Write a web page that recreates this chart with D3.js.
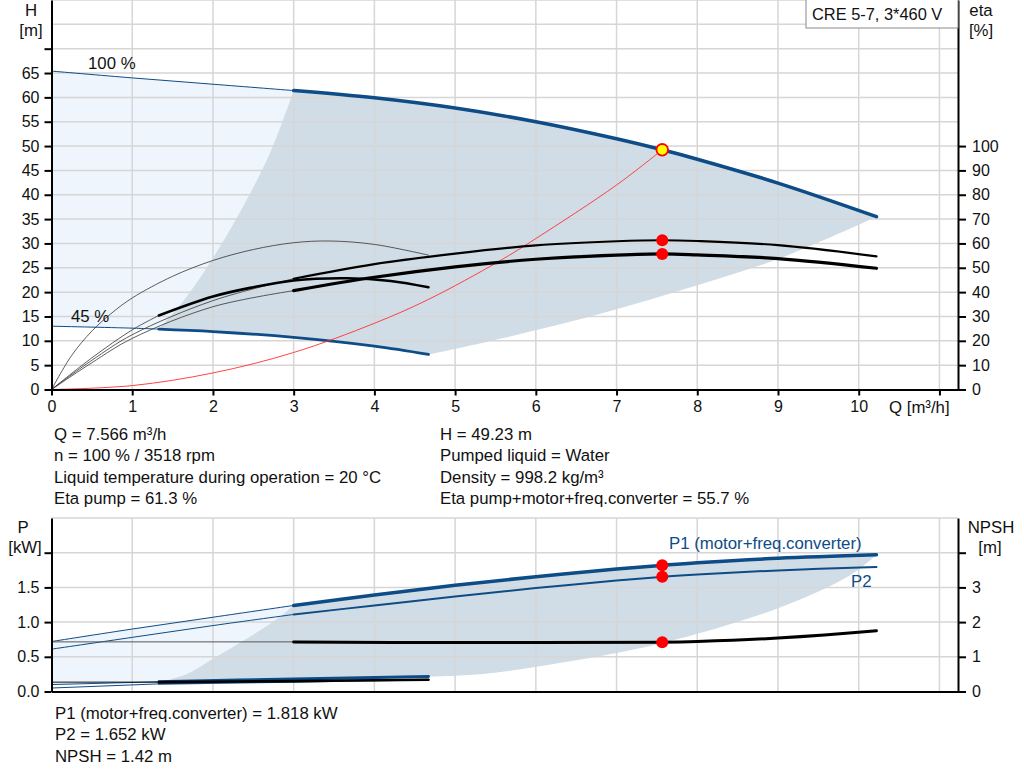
<!DOCTYPE html>
<html>
<head>
<meta charset="utf-8">
<script src="https://cdn.jsdelivr.net/npm/d3@7"></script>
<style>
  body { margin: 0; background: #fff; }
  svg { display: block; font-family: "Liberation Sans", Arial, sans-serif; }
  .axis text { font-size: 16px; fill: #111; }
  .axis path, .axis line { stroke: #000; stroke-width: 2; }
  .grid line { stroke: #d6d6d6; stroke-width: 1.5; }
</style>
</head>
<body>
<script>
"use strict"

// ---- ticks ----
const qTicks = [0, 1, 2, 3, 4, 5, 6, 7, 8, 9, 10, 11]
const hTicks = [0, 5, 10, 15, 20, 25, 30, 35, 40, 45, 50, 55, 60, 65, 70]
const etaTicks = [0, 10, 20, 30, 40, 50, 60, 70, 80, 90, 100]
const pTicks = [0, 0.5, 1, 1.5, 2]
const npshTicks = [0, 1, 2, 3, 4]

// ---- head curves [Q m3/h, H m] ----
const h100Thin = [[0, 65.4], [1, 64.0], [2, 62.7], [3, 61.4]]
const h100Thick = [[3, 61.4], [4, 59.9], [5, 57.8], [6, 55.0], [7, 51.5], [7.566, 49.23], [8, 47.3], [9, 42.4], [10.22, 35.5]]
const h45Thin = [[0, 13.0], [1, 12.6], [1.33, 12.4]]
const h45Thick = [[1.33, 12.4], [2, 11.9], [3, 10.7], [4, 8.9], [4.67, 7.2]]
const hMinFlow = [[1.33, 12.4], [1.67, 19], [2, 27], [2.42, 39], [2.73, 49.5], [3, 61.4]]
const hMaxFlow = [[4.67, 7.2], [5.32, 9.5], [6.81, 15.6], [8, 21.4], [9, 26.8], [10.22, 35.5]]
const systemCurve = [[0, 0], [1, 0.8], [2, 3.4], [3, 7.6], [4, 13.6], [4.67, 18.5], [5.54, 26.3], [6, 31], [7, 42], [7.566, 49.23]]

// ---- efficiency curves [Q, eta %] ----
const etaPump100Thin = [[0, 0], [0.5, 12], [1, 22.5], [2, 36.5], [3, 45.5]]
const etaPump100Thick = [[3, 45.5], [4, 51.5], [5, 55.8], [6, 59.2], [7, 60.9], [7.566, 61.3], [8, 61.0], [9, 59.3], [10.22, 54.7]]
const etaTot100Thin = [[0, 0], [0.5, 11], [1, 21], [2, 34], [3, 40.6]]
const etaTot100Thick = [[3, 40.6], [4, 46.1], [5, 50.4], [6, 53.5], [7, 55.2], [7.566, 55.7], [8, 55.3], [9, 53.8], [10.22, 49.8]]
const etaPump45 = [[0, 0], [0.25, 14], [0.5, 24], [0.75, 31.5], [1, 37.6], [1.5, 46.5], [2, 53], [2.5, 57.5], [3, 60.3], [3.45, 61], [4, 59.6], [4.67, 55.2]]
const etaTot45Thin = [[0, 0], [0.5, 13], [1, 24.5], [1.33, 30.4]]
const etaTot45Thick = [[1.33, 30.4], [2, 38.2], [2.5, 42], [3, 44.8], [3.66, 45.7], [4.2, 44.6], [4.67, 42]]

// ---- power [Q, kW] and NPSH [Q, m] ----
const p1_100Thin = [[0, 0.72], [1, 0.9], [2, 1.07], [3, 1.24]]
const p1_100Thick = [[3, 1.24], [4, 1.39], [5, 1.53], [6, 1.655], [7, 1.765], [7.566, 1.818], [8, 1.855], [9, 1.92], [10.22, 1.97]]
const p2_100Thin = [[0, 0.61], [1, 0.78], [2, 0.95], [3, 1.11]]
const p2_100Thick = [[3, 1.11], [4, 1.24], [5, 1.37], [6, 1.49], [7, 1.6], [7.566, 1.652], [8, 1.685], [9, 1.745], [10.22, 1.795]]
const p1_45Thin = [[0, 0.1], [1.33, 0.14]]
const p1_45Thick = [[1.33, 0.14], [3, 0.18], [4.67, 0.216]]
const p2_45Thin = [[0, 0.05], [1.33, 0.11]]
const p2_45Thick = [[1.33, 0.11], [3, 0.14], [4.67, 0.17]]
const npsh100Thin = [[0, 1.43], [3, 1.43]]
const npsh100Thick = [[3, 1.43], [5, 1.41], [7.566, 1.42], [8, 1.44], [9, 1.54], [10.22, 1.75]]
const npsh45Thin = [[0, 0.27], [1.33, 0.27]]
const npsh45Thick = [[1.33, 0.27], [3, 0.3], [4.67, 0.34]]
const pMinFlow = [[1.33, 0.14], [1.67, 0.25], [2.04, 0.5], [2.4, 0.75], [2.74, 1.0], [3, 1.24]]
const pMaxFlow = [[4.67, 0.216], [5.31, 0.25], [6.29, 0.41], [7.57, 0.7], [9, 1.2], [9.9, 1.68], [10.22, 1.97]]

// ---- duty point ----
const duty = { q: 7.566, h: 49.23, etaPump: 61.3, etaTot: 55.7, p1: 1.818, p2: 1.652, npsh: 1.42 }

const infoLeft = ['Q = 7.566 m³/h', 'n = 100 % / 3518 rpm', 'Liquid temperature during operation = 20 °C', 'Eta pump = 61.3 %']
const infoRight = ['H = 49.23 m', 'Pumped liquid = Water', 'Density = 998.2 kg/m³', 'Eta pump+motor+freq.converter = 55.7 %']
const infoBottom = ['P1 (motor+freq.converter) = 1.818 kW', 'P2 = 1.652 kW', 'NPSH = 1.42 m']

const W = 1024, H = 781
const BLUE = '#0d4c86'
const FS = 16.8
const x0 = 51.5, x1 = 958

const svg = d3.select('body').append('svg').attr('width', W).attr('height', H)

const x = d3.scaleLinear([0, 11.23], [x0, x1])
const yH = d3.scaleLinear([0, 80], [389.5, 0])
const yEta = d3.scaleLinear([0, 160], [389.5, 0])
const yP = d3.scaleLinear([0, 2.5], [691.5, 518])
const yN = d3.scaleLinear([0, 5], [691.5, 518])

const lineFor = ys => d3.line().x(d => x(d[0])).y(d => ys(d[1])).curve(d3.curveCatmullRom.alpha(0.5))

// joins several pieces into one closed outline; rev marks pieces to walk backwards
const outline = (ys, pieces) => {
   const gen = lineFor(ys)
   return pieces.map((p, i) => {
      const s = gen(p.rev ? p.pts.slice().reverse() : p.pts)
      return i ? 'L' + s.slice(1) : s
   }).join('') + 'Z'
}

const drawLine = (g, pts, ys, color, w) => g.append('path')
   .attr('d', lineFor(ys)(pts))
   .attr('fill', 'none')
   .attr('stroke', color)
   .attr('stroke-width', w)
   .attr('stroke-linecap', 'round')

const label = (tx, ty, s, anchor, color, fs) => svg.append('text')
   .attr('x', tx).attr('y', ty).attr('dy', '0.35em')
   .attr('text-anchor', anchor || 'start')
   .attr('font-size', fs || FS).attr('fill', color || '#111')
   .text(s)

// =================== top chart ===================
const gTop = svg.append('g')

gTop.append('path')
   .attr('d', outline(yH, [{ pts: h100Thin }, { pts: hMinFlow, rev: true }, { pts: h45Thin, rev: true }]))
   .attr('fill', '#eef5fc')
gTop.append('path')
   .attr('d', outline(yH, [{ pts: h100Thick }, { pts: hMaxFlow, rev: true }, { pts: h45Thick, rev: true }, { pts: hMinFlow }]))
   .attr('fill', '#d0dce6')

const gridTop = gTop.append('g').attr('class', 'grid')
gridTop.selectAll('.v').data(qTicks.slice(1)).enter().append('line')
   .attr('x1', d => x(d)).attr('x2', d => x(d)).attr('y1', yH(80)).attr('y2', yH(0))
gridTop.selectAll('.h').data(d3.range(5, 81, 5)).enter().append('line')
   .attr('x1', x0).attr('x2', x1).attr('y1', d => yH(d)).attr('y2', d => yH(d))

drawLine(gTop, h100Thin, yH, BLUE, 1)
drawLine(gTop, h45Thin, yH, BLUE, 1)
drawLine(gTop, h100Thick, yH, BLUE, 3.5)
drawLine(gTop, h45Thick, yH, BLUE, 2.8)
drawLine(gTop, systemCurve, yH, '#ff3030', 0.9)

drawLine(gTop, etaPump45, yEta, '#333', 0.8)
drawLine(gTop, etaPump100Thin, yEta, '#333', 0.8)
drawLine(gTop, etaTot100Thin, yEta, '#333', 0.8)
drawLine(gTop, etaTot45Thin, yEta, '#333', 0.8)
drawLine(gTop, etaTot45Thick, yEta, '#000', 2.6)
drawLine(gTop, etaPump100Thick, yEta, '#000', 2.2)
drawLine(gTop, etaTot100Thick, yEta, '#000', 3.2)

gTop.selectAll('.etadot').data([duty.etaPump, duty.etaTot]).enter().append('circle')
   .attr('cx', x(duty.q)).attr('cy', d => yEta(d)).attr('r', 6).attr('fill', '#ff0000')
gTop.append('circle')
   .attr('cx', x(duty.q)).attr('cy', yH(duty.h)).attr('r', 5.8)
   .attr('fill', '#ffff00').attr('stroke', '#ff0000').attr('stroke-width', 1.8)

gTop.append('g').attr('class', 'axis')
   .attr('transform', `translate(${x0},0)`)
   .call(d3.axisLeft(yH).tickValues(hTicks).tickSize(7).tickPadding(5).tickSizeOuter(0)
      .tickFormat(d => d === 70 ? '' : d))
gTop.append('g').attr('class', 'axis')
   .attr('transform', `translate(${x1},0)`)
   .call(d3.axisRight(yEta).tickValues(etaTicks).tickSize(8).tickPadding(6).tickSizeOuter(0))
gTop.append('g').attr('class', 'axis')
   .attr('transform', `translate(0,${yH(0)})`)
   .call(d3.axisBottom(x).tickValues(qTicks).tickSize(6).tickPadding(5).tickSizeOuter(0)
      .tickFormat(d => d === 11 ? '' : d))

label(31, 10, 'H', 'middle')
label(31, 30, '[m]', 'middle')
label(981, 10, 'eta', 'middle')
label(981, 30, '[%]', 'middle')
label(889, 407, 'Q [m³/h]')
label(88, 63, '100 %')
label(71, 316, '45 %')

svg.append('rect').attr('x', 806).attr('y', -1).attr('width', 152).attr('height', 29)
   .attr('fill', '#fff').attr('stroke', '#8a8a8a').attr('stroke-width', 1)
label(812, 14, 'CRE 5-7, 3*460 V', 'start', '#111', 16.4)

infoLeft.forEach((s, i) => label(54, 434 + i * 21.5, s))
infoRight.forEach((s, i) => label(440, 434 + i * 21.5, s))

// =================== bottom chart ===================
const gBot = svg.append('g')

gBot.append('path')
   .attr('d', outline(yP, [{ pts: p1_100Thin }, { pts: pMinFlow, rev: true }, { pts: p1_45Thin, rev: true }]))
   .attr('fill', '#eef5fc')
gBot.append('path')
   .attr('d', outline(yP, [{ pts: p1_100Thick }, { pts: pMaxFlow, rev: true }, { pts: p1_45Thick, rev: true }, { pts: pMinFlow }]))
   .attr('fill', '#d0dce6')

const gridBot = gBot.append('g').attr('class', 'grid')
gridBot.selectAll('.v').data(qTicks.slice(1)).enter().append('line')
   .attr('x1', d => x(d)).attr('x2', d => x(d)).attr('y1', yP(2.5)).attr('y2', yP(0))
gridBot.selectAll('.h').data([0.5, 1, 1.5, 2, 2.5]).enter().append('line')
   .attr('x1', x0).attr('x2', x1).attr('y1', d => yP(d)).attr('y2', d => yP(d))

drawLine(gBot, p1_100Thin, yP, BLUE, 1)
drawLine(gBot, p2_100Thin, yP, BLUE, 1)
drawLine(gBot, p1_45Thin, yP, BLUE, 1)
drawLine(gBot, p2_45Thin, yP, BLUE, 1)
drawLine(gBot, npsh100Thin, yN, '#555', 1)
drawLine(gBot, npsh45Thin, yN, '#111', 1)
drawLine(gBot, p2_45Thick, yP, BLUE, 1.8)
drawLine(gBot, p1_45Thick, yP, BLUE, 3)
drawLine(gBot, npsh45Thick, yN, '#000', 2.6)
drawLine(gBot, p1_100Thick, yP, BLUE, 3.5)
drawLine(gBot, p2_100Thick, yP, BLUE, 2)
drawLine(gBot, npsh100Thick, yN, '#000', 3)

gBot.selectAll('.pdot').data([yP(duty.p1), yP(duty.p2), yN(duty.npsh)]).enter().append('circle')
   .attr('cx', x(duty.q)).attr('cy', d => d).attr('r', 6).attr('fill', '#ff0000')

gBot.append('g').attr('class', 'axis')
   .attr('transform', `translate(${x0},0)`)
   .call(d3.axisLeft(yP).tickValues(pTicks).tickSize(7).tickPadding(5).tickSizeOuter(0)
      .tickFormat(d => d === 2 ? '' : d3.format('.1f')(d)))
gBot.append('g').attr('class', 'axis')
   .attr('transform', `translate(${x1},0)`)
   .call(d3.axisRight(yN).tickValues(npshTicks).tickSize(8).tickPadding(6).tickSizeOuter(0)
      .tickFormat(d => d === 4 ? '' : d))
gBot.append('g').attr('class', 'axis')
   .attr('transform', `translate(0,${yP(0)})`)
   .call(d3.axisBottom(x).tickValues([]).tickSizeOuter(0))

label(23, 527, 'P', 'middle')
label(25, 547, '[kW]', 'middle')
label(991, 527, 'NPSH', 'middle')
label(990, 547, '[m]', 'middle')
label(669, 543, 'P1 (motor+freq.converter)', 'start', BLUE)
label(851, 581, 'P2', 'start', BLUE)

infoBottom.forEach((s, i) => label(55, 713 + i * 21.5, s))
</script>
</body>
</html>
